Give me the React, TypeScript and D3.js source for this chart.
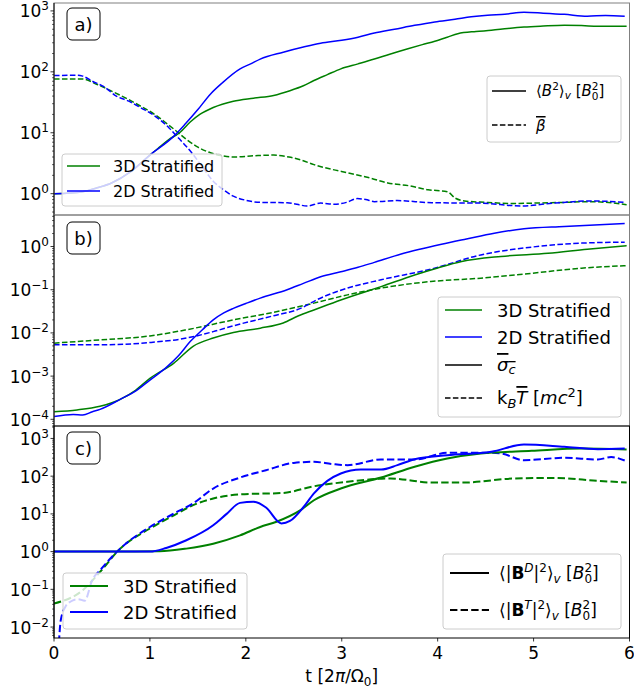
import React from "react";
import * as d3 from "d3";

type P = [number, number];

// ---------- Panel a ----------
const aB2_3D: P[] = [[0,1.0],[0.3,1.08],[0.45,1.25],[0.6,1.5],[0.8,2.3],[1.0,4.3],[1.1,5.8],[1.2,7.8],[1.31,10],[1.42,15],[1.52,20],[1.66,26],[1.87,33],[2.08,37],[2.29,41],[2.46,49],[2.6,59],[2.71,72],[2.85,90],[2.99,112],[3.17,135],[3.34,162],[3.5,195],[3.69,240],[3.84,280],[3.97,318],[4.1,370],[4.21,423],[4.4,460],[4.56,480],[4.73,515],[4.9,545],[5.1,565],[5.32,580],[5.5,575],[5.67,560],[5.97,560]];
const aB2_2D: P[] = [[0,1.0],[0.3,1.08],[0.45,1.25],[0.6,1.5],[0.8,2.3],[1.0,4.3],[1.25,8.8],[1.37,14],[1.5,24],[1.63,43],[1.75,65],[1.94,112],[2.05,135],[2.15,162],[2.39,210],[2.6,255],[2.78,295],[3.0,330],[3.17,370],[3.34,433],[3.55,500],[3.76,580],[3.97,660],[4.18,730],[4.35,800],[4.52,850],[4.7,880],[4.9,950],[5.1,920],[5.32,880],[5.56,820],[5.75,840],[5.95,820]];
const aBeta_3D: P[] = [[0,76],[0.3,76],[0.45,62],[0.58,50],[0.75,37],[0.9,27.5],[1.05,20],[1.18,14],[1.28,10.5],[1.38,7.8],[1.5,5.8],[1.63,4.7],[1.75,4.2],[1.87,4.0],[2.1,4.2],[2.29,4.3],[2.45,4.0],[2.57,3.6],[2.71,3.0],[2.9,2.5],[3.06,2.2],[3.3,1.8],[3.48,1.5],[3.7,1.35],[3.9,1.16],[4.1,1.08],[4.18,0.85],[4.28,0.76],[4.5,0.72],[4.8,0.69],[5.0,0.7],[5.32,0.72],[5.6,0.74],[5.97,0.66]];
const aBeta_2D: P[] = [[0,87],[0.25,88],[0.3,85],[0.4,70],[0.52,57],[0.65,40],[0.78,33],[0.9,26],[1.1,16.6],[1.2,12],[1.28,8.8],[1.37,6.2],[1.45,4.4],[1.55,2.7],[1.66,1.6],[1.77,1.15],[1.87,0.91],[2.0,0.78],[2.15,0.72],[2.43,0.71],[2.64,0.63],[2.78,0.7],[2.92,0.67],[3.05,0.72],[3.16,0.83],[3.25,0.8],[3.34,0.74],[3.58,0.77],[3.94,0.71],[4.45,0.7],[4.87,0.63],[5.22,0.7],[5.6,0.76],[5.95,0.72]];

// ---------- Panel b ----------
const bSig_3D: P[] = [[0,1.5e-4],[0.24,1.65e-4],[0.48,2e-4],[0.69,2.9e-4],[0.85,4.7e-4],[1.0,8.9e-4],[1.25,2e-3],[1.45,4.9e-3],[1.66,7.6e-3],[1.87,0.0102],[2.15,0.0129],[2.39,0.017],[2.55,0.025],[2.71,0.034],[2.99,0.058],[3.41,0.118],[3.76,0.22],[4.0,0.32],[4.25,0.45],[4.66,0.59],[5.15,0.7],[5.56,0.87],[5.97,1.05]];
const bSig_2D: P[] = [[0,1.16e-4],[0.2,1.3e-4],[0.3,1.26e-4],[0.4,1.5e-4],[0.48,1.7e-4],[0.69,2.9e-4],[0.85,4.5e-4],[1.0,8.1e-4],[1.18,1.66e-3],[1.3,3e-3],[1.42,6.3e-3],[1.55,0.012],[1.66,0.02],[1.77,0.029],[1.87,0.037],[2.0,0.048],[2.15,0.064],[2.43,0.1],[2.6,0.14],[2.78,0.2],[2.99,0.26],[3.17,0.33],[3.34,0.43],[3.62,0.67],[3.8,0.85],[4.04,1.13],[4.3,1.5],[4.59,2.04],[4.9,2.57],[5.32,2.9],[5.95,3.4]];
const bKT_3D: P[] = [[0,5.8e-3],[0.48,6.9e-3],[1.0,8.5e-3],[1.38,0.0118],[1.87,0.02],[2.29,0.030],[2.71,0.049],[3.06,0.076],[3.41,0.109],[3.93,0.155],[4.45,0.185],[4.98,0.24],[5.5,0.316],[5.97,0.36]];
const bKT_2D: P[] = [[0,5.3e-3],[0.48,5.3e-3],[1.0,6e-3],[1.38,7.6e-3],[1.66,0.0107],[1.87,0.0146],[2.29,0.025],[2.57,0.037],[2.75,0.06],[3.06,0.109],[3.41,0.17],[3.93,0.3],[4.45,0.64],[4.98,0.97],[5.5,1.2],[5.95,1.26]];

// ---------- Panel c ----------
const cBD_3D: P[] = [[0,1],[1.1,1.02],[1.38,1.2],[1.66,1.62],[1.94,2.7],[2.15,4.5],[2.32,6.2],[2.57,12.6],[2.71,23],[2.99,47],[3.41,92],[3.76,178],[4.1,295],[4.45,400],[4.98,470],[5.5,540],[5.97,510]];
const cBD_2D: P[] = [[0,1],[1.0,1],[1.17,1.25],[1.38,2],[1.66,5],[1.8,10],[1.94,19.6],[2.08,21],[2.21,14.8],[2.37,5.6],[2.46,6.5],[2.6,15],[2.71,35],[2.85,75],[2.99,118],[3.2,150],[3.41,150],[3.58,196],[3.76,282],[4.1,360],[4.56,444],[4.9,690],[5.32,600],[5.67,520],[5.95,540]];
const cBT_3D: P[] = [[0,0.042],[0.3,0.095],[0.48,0.29],[0.69,1.2],[1.0,4.1],[1.25,9.2],[1.45,17],[1.66,25.6],[1.94,33],[2.39,36],[2.71,54],[3.06,71],[3.51,87],[3.93,68],[4.28,68],[4.8,87],[5.22,90],[5.67,75],[5.97,68]];
const cBT_2D: P[] = [[0.045,0.002],[0.07,0.015],[0.12,0.035],[0.17,0.047],[0.25,0.055],[0.32,0.05],[0.4,0.18],[0.48,0.32],[0.69,1.2],[1.0,4.5],[1.25,10.2],[1.45,19],[1.66,47],[1.94,92],[2.21,144],[2.5,225],[2.71,240],[2.9,210],[3.06,196],[3.41,277],[3.76,277],[4.1,415],[4.52,420],[4.66,400],[4.9,265],[5.32,307],[5.67,277],[5.81,320],[5.95,260]];

const xTicks = [0, 1, 2, 3, 4, 5, 6];
const aExps = [0, 1, 2, 3];
const bExps = [-4, -3, -2, -1, 0];
const cExps = [-2, -1, 0, 1, 2, 3];

const GREEN = "#008000";
const BLUE = "#0000ff";
const FONT = "DejaVu Sans, sans-serif";

const X0 = 54, X1 = 629.5;
const x = d3.scaleLinear().domain([0, 6]).range([X0, X1]);

const panels = {
  a: { top: 3, bottom: 215, dom: [Math.pow(10, -0.35), Math.pow(10, 3.13)] as [number, number] },
  b: { top: 215, bottom: 426, dom: [Math.pow(10, -4.155), Math.pow(10, 0.73)] as [number, number] },
  c: { top: 426, bottom: 638, dom: [Math.pow(10, -2.29), Math.pow(10, 3.33)] as [number, number] },
};

function fmtExp(e: number) {
  return e < 0 ? "\u2212" + Math.abs(e) : String(e);
}

function YAxis({ y, exps }: { y: d3.ScaleLogarithmic<number, number>; exps: number[] }) {
  const [lo, hi] = y.domain();
  const minors: number[] = [];
  for (let e = Math.floor(Math.log10(lo)) - 1; e <= Math.ceil(Math.log10(hi)); e++) {
    for (let m = 2; m <= 9; m++) {
      const v = m * Math.pow(10, e);
      if (v >= lo && v <= hi) minors.push(v);
    }
  }
  return (
    <g>
      {minors.map((v, i) => (
        <line key={"m" + i} x1={X0} x2={X0 - 2} y1={y(v)} y2={y(v)} stroke="#000" strokeWidth={0.6} />
      ))}
      {exps.map((e) => {
        const yy = y(Math.pow(10, e));
        return (
          <g key={e}>
            <line x1={X0} x2={X0 - 3.5} y1={yy} y2={yy} stroke="#000" strokeWidth={0.8} />
            <text x={49} y={yy + 6.5} textAnchor="end" fontSize={17} fontFamily={FONT} fill="#000">
              10<tspan dy={-7} fontSize={12}>{fmtExp(e)}</tspan>
            </text>
          </g>
        );
      })}
    </g>
  );
}

function Curve({ data, y, color, dashed, lw, clip }: { data: P[]; y: d3.ScaleLogarithmic<number, number>; color: string; dashed?: boolean; lw: number; clip: string }) {
  const line = d3.line<P>().x((d) => x(d[0])).y((d) => y(d[1])).curve(d3.curveMonotoneX);
  return (
    <path d={line(data) || ""} fill="none" stroke={color} strokeWidth={lw}
      strokeDasharray={dashed ? `${3.7 * lw},${1.6 * lw}` : undefined} clipPath={`url(#${clip})`} strokeLinejoin="round" />
  );
}

function Label({ x0, y0, txt }: { x0: number; y0: number; txt: string }) {
  return (
    <g>
      <rect x={x0} y={y0} width={33} height={32} rx={5} fill="#fff" stroke="#000" strokeWidth={1} />
      <text x={x0 + 16.5} y={y0 + 22.5} textAnchor="middle" fontSize={18} fontFamily={FONT}>{txt}</text>
    </g>
  );
}

function Frame({ top, bottom, gray }: { top: number; bottom: number; gray: boolean }) {
  const c = gray ? "#808080" : "#000";
  return (
    <g>
      <rect x={X0} y={top} width={X1 - X0} height={bottom - top} fill="none" stroke={c} strokeWidth={1} />
      <line x1={X0} x2={X0} y1={top} y2={bottom} stroke="#000" strokeWidth={1} />
    </g>
  );
}

function LegendBox({ x0, y0, w, h }: { x0: number; y0: number; w: number; h: number }) {
  return <rect x={x0} y={y0} width={w} height={h} rx={3} fill="#fff" fillOpacity={0.8} stroke="#cccccc" strokeWidth={1} />;
}

export default function App() {
  const ya = d3.scaleLog().domain(panels.a.dom).range([panels.a.bottom, panels.a.top]);
  const yb = d3.scaleLog().domain(panels.b.dom).range([panels.b.bottom, panels.b.top]);
  const yc = d3.scaleLog().domain(panels.c.dom).range([panels.c.bottom, panels.c.top]);

  return (
    <svg width={634} height={691} style={{ display: "block", position: "absolute", left: 0, top: 0 }} fontFamily={FONT}>
      <rect x={0} y={0} width={634} height={691} fill="#fff" />
      <defs>
        {(["a", "b", "c"] as const).map((k) => (
          <clipPath id={"clip" + k} key={k}>
            <rect x={X0} y={panels[k].top} width={X1 - X0} height={panels[k].bottom - panels[k].top} />
          </clipPath>
        ))}
      </defs>

      {/* Panel a */}
      <Curve data={aBeta_3D} y={ya} color={GREEN} dashed lw={1.5} clip="clipa" />
      <Curve data={aBeta_2D} y={ya} color={BLUE} dashed lw={1.5} clip="clipa" />
      <Curve data={aB2_3D} y={ya} color={GREEN} lw={1.5} clip="clipa" />
      <Curve data={aB2_2D} y={ya} color={BLUE} lw={1.5} clip="clipa" />
      <Frame top={panels.a.top} bottom={panels.a.bottom} gray />
      <YAxis y={ya} exps={aExps} />
      <Label x0={67} y0={8} txt="a)" />
      <LegendBox x0={62} y0={154} w={160} h={52} />
      <line x1={67} x2={100} y1={166} y2={166} stroke={GREEN} strokeWidth={1.5} />
      <text x={113} y={171.5} fontSize={16}>3D Stratified</text>
      <line x1={67} x2={100} y1={191} y2={191} stroke={BLUE} strokeWidth={1.5} />
      <text x={113} y={196.5} fontSize={16}>2D Stratified</text>

      <LegendBox x0={487} y0={76} w={134} h={66} />
      <line x1={492} x2={526} y1={91} y2={91} stroke="#000" strokeWidth={1.5} />
      <text x={536} y={96} fontSize={15}>
        ⟨<tspan fontStyle="italic">B</tspan><tspan dy={-6} fontSize={10.5}>2</tspan><tspan dy={6}>⟩</tspan><tspan dy={3} fontSize={10.5} fontStyle="italic">v</tspan><tspan dy={-3}> [</tspan><tspan fontStyle="italic">B</tspan><tspan dy={4} fontSize={10.5}>0</tspan><tspan dx={-6.7} dy={-10} fontSize={10.5}>2</tspan><tspan dy={6}>]</tspan>
      </text>
      <line x1={492} x2={526} y1={125} y2={125} stroke="#000" strokeWidth={1.5} strokeDasharray="5.5,2.4" />
      <text x={536} y={131} fontSize={15} fontStyle="italic" textDecoration="overline">β</text>

      {/* Panel b */}
      <Curve data={bKT_3D} y={yb} color={GREEN} dashed lw={1.5} clip="clipb" />
      <Curve data={bKT_2D} y={yb} color={BLUE} dashed lw={1.5} clip="clipb" />
      <Curve data={bSig_3D} y={yb} color={GREEN} lw={1.5} clip="clipb" />
      <Curve data={bSig_2D} y={yb} color={BLUE} lw={1.5} clip="clipb" />
      <Frame top={panels.b.top} bottom={panels.b.bottom} gray />
      <YAxis y={yb} exps={bExps} />
      <Label x0={67} y0={222} txt="b)" />
      <LegendBox x0={438} y0={297} w={183} h={120} />
      <line x1={445} x2={482} y1={310} y2={310} stroke={GREEN} strokeWidth={1.5} />
      <text x={497} y={316.5} fontSize={18}>3D Stratified</text>
      <line x1={445} x2={482} y1={337} y2={337} stroke={BLUE} strokeWidth={1.5} />
      <text x={497} y={343.5} fontSize={18}>2D Stratified</text>
      <line x1={445} x2={482} y1={365} y2={365} stroke="#000" strokeWidth={1.5} />
      <text x={497} y={371} fontSize={18} textDecoration="overline"><tspan fontStyle="italic">σ</tspan><tspan fontStyle="italic" fontSize={13} dy={3}>c</tspan></text>
      <line x1={445} x2={482} y1={398} y2={398} stroke="#000" strokeWidth={1.5} strokeDasharray="5.5,2.4" />
      <text x={497} y={404} fontSize={18}>
        k<tspan fontSize={13} fontStyle="italic" dy={4}>B</tspan><tspan dy={-4} fontStyle="italic" textDecoration="overline">T</tspan> [<tspan fontStyle="italic">mc</tspan><tspan dy={-7} fontSize={13}>2</tspan><tspan dy={7}>]</tspan>
      </text>

      {/* Panel c */}
      <Curve data={cBT_3D} y={yc} color={GREEN} dashed lw={2} clip="clipc" />
      <Curve data={cBT_2D} y={yc} color={BLUE} dashed lw={2} clip="clipc" />
      <Curve data={cBD_3D} y={yc} color={GREEN} lw={2} clip="clipc" />
      <Curve data={cBD_2D} y={yc} color={BLUE} lw={2} clip="clipc" />
      <Frame top={panels.c.top} bottom={panels.c.bottom} gray={false} />
      <YAxis y={yc} exps={cExps} />
      <Label x0={67} y0={432} txt="c)" />
      <LegendBox x0={63} y0={573} w={184} h={56} />
      <line x1={70} x2={108} y1={586} y2={586} stroke={GREEN} strokeWidth={2} />
      <text x={123} y={592.5} fontSize={18}>3D Stratified</text>
      <line x1={70} x2={108} y1={612} y2={612} stroke={BLUE} strokeWidth={2} />
      <text x={123} y={618.5} fontSize={18}>2D Stratified</text>

      <LegendBox x0={443} y0={554} w={178} h={75} />
      <line x1={450} x2={489} y1={573} y2={573} stroke="#000" strokeWidth={2} />
      <text x={499} y={579} fontSize={17}>
        ⟨|<tspan fontWeight="bold">B</tspan><tspan dy={-7} fontSize={12} fontStyle="italic">D</tspan><tspan dy={7}>|</tspan><tspan dy={-7} fontSize={12}>2</tspan><tspan dy={7}>⟩</tspan><tspan dy={4} fontSize={12} fontStyle="italic">v</tspan><tspan dy={-4}> [</tspan><tspan fontStyle="italic">B</tspan><tspan dy={4} fontSize={12}>0</tspan><tspan dx={-7.6} dy={-11} fontSize={12}>2</tspan><tspan dy={7}>]</tspan>
      </text>
      <line x1={450} x2={489} y1={610} y2={610} stroke="#000" strokeWidth={2} strokeDasharray="7.4,3.2" />
      <text x={499} y={616} fontSize={17}>
        ⟨|<tspan fontWeight="bold">B</tspan><tspan dy={-7} fontSize={12} fontStyle="italic">T</tspan><tspan dy={7}>|</tspan><tspan dy={-7} fontSize={12}>2</tspan><tspan dy={7}>⟩</tspan><tspan dy={4} fontSize={12} fontStyle="italic">v</tspan><tspan dy={-4}> [</tspan><tspan fontStyle="italic">B</tspan><tspan dy={4} fontSize={12}>0</tspan><tspan dx={-7.6} dy={-11} fontSize={12}>2</tspan><tspan dy={7}>]</tspan>
      </text>

      {/* x axis */}
      {xTicks.map((t) => (
        <g key={t}>
          <line x1={x(t)} x2={x(t)} y1={638} y2={641.5} stroke="#000" strokeWidth={0.8} />
          <text x={x(t)} y={659} textAnchor="middle" fontSize={17}>{t}</text>
        </g>
      ))}
      <text x={x(3)} y={682} textAnchor="middle" fontSize={17}>
        t [2<tspan fontStyle="italic">π</tspan>/Ω<tspan dy={4} fontSize={12}>0</tspan><tspan dy={-4}>]</tspan>
      </text>
    </svg>
  );
}
